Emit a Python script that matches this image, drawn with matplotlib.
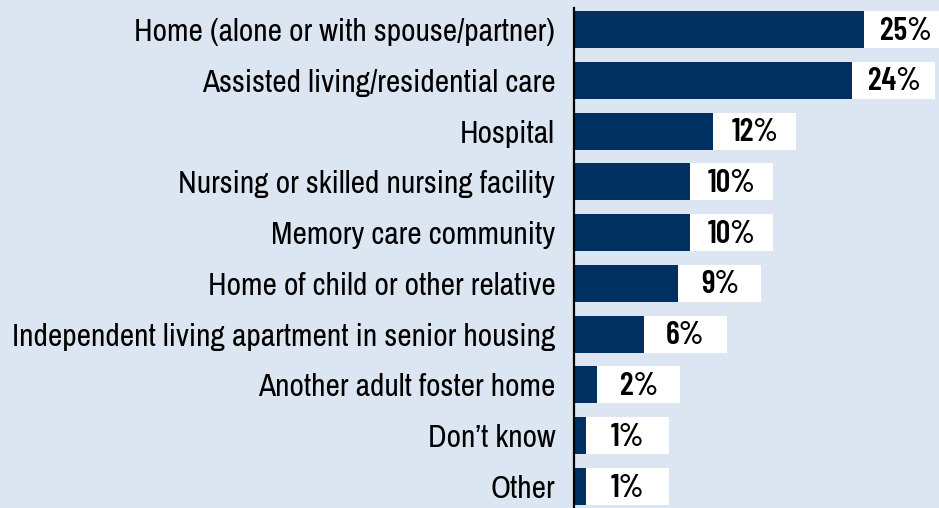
import matplotlib
matplotlib.use("Agg")
import matplotlib.pyplot as plt

# ---- data ----
categories = ['Home (alone or with spouse/partner)',
              'Assisted living/residential care',
              'Hospital',
              'Nursing or skilled nursing facility',
              'Memory care community',
              'Home of child or other relative',
              'Independent living apartment in senior housing',
              'Another adult foster home',
              'Don\u2019t know',
              'Other']
values = [25, 24, 12, 10, 10, 9, 6, 2, 1, 1]
labels = ['25%', '24%', '12%', '10%', '10%', '9%', '6%', '2%', '1%', '1%']

bg = '#dce6f3'
navy = '#00305f'
fam = ['Archivo Narrow', 'DejaVu Sans']
fam_bold = ['Barlow Condensed', 'DejaVu Sans']

fig = plt.figure(figsize=(9.39, 5.08), dpi=100, facecolor=bg)
ax = fig.add_axes([574/939, 0, 1 - 574/939, 500/508])
ax.set_facecolor(bg)

ypos = list(range(len(categories)))
ax.barh(ypos, values, height=0.73, color=navy, zorder=2)

# white value boxes right of each bar
box_w = 83 / 11.6
ax.barh(ypos, [box_w] * len(values), left=values, height=0.73,
        color='white', zorder=2, clip_on=False)
for y, v, t in zip(ypos, values, labels):
    ax.text(v + box_w / 2, y + 0.03, t, ha='center', va='center', fontsize=23,
            fontweight=600, family=fam_bold, color='black', zorder=3, clip_on=False)

ax.set_xlim(0, 365 / 11.6)
ax.set_ylim(9.423, -0.423)
ax.set_yticks(ypos)
ax.set_yticklabels(categories, fontsize=22.6, family=fam)
ax.tick_params(axis='y', length=0, pad=13.5)
ax.set_xticks([])
for s in ['top', 'right', 'bottom']:
    ax.spines[s].set_visible(False)
ax.spines['left'].set_linewidth(1.6)
ax.spines['left'].set_color('black')

fig.savefig('out.png', dpi=100, facecolor=bg)
